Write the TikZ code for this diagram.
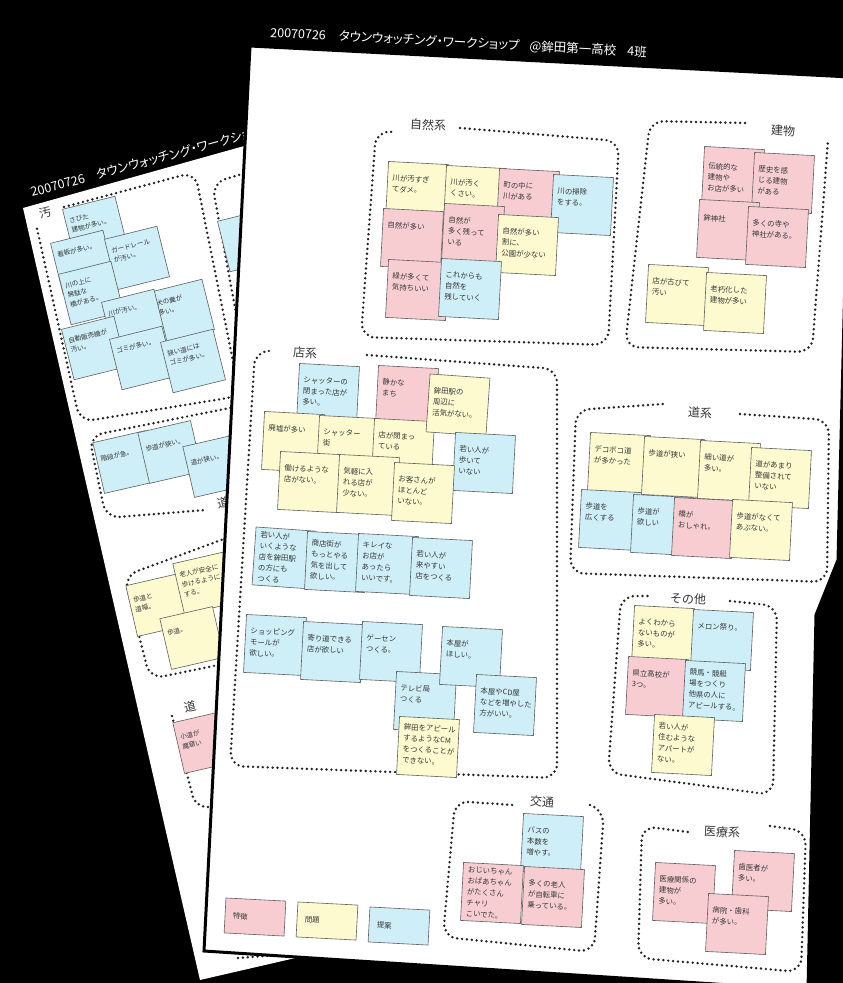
\documentclass[tikz,border=0pt]{standalone}
\usepackage{fontspec}
\setmainfont{Noto Sans CJK JP}
\newfontfamily\hdfont[RawFeature={+palt}]{Noto Sans CJK JP}
\definecolor{pk}{RGB}{247,205,210}
\definecolor{yl}{RGB}{252,250,206}
\definecolor{bl}{RGB}{206,238,248}
\definecolor{edgec}{RGB}{95,95,95}
\definecolor{txt}{RGB}{55,55,55}
\definecolor{dotc}{RGB}{35,35,35}
\newcommand\stnote[7][13pt]{%
  \node[note,fill=#6,rotate=#5] (#2) at (#3,#4) {};
  \node[ntext,rotate=#5,anchor=north west,xshift=5pt,yshift=-#1] (#2t) at (#2.north west) {#7};}
\newcommand\bknote[7][10pt]{%
  \node[bnote,fill=#6,rotate=#5] (#2) at (#3,#4) {};
  \node[btext,rotate=#5,anchor=north west,xshift=4pt,yshift=-#1] (#2t) at (#2.north west) {#7};}
\begin{document}
\begin{tikzpicture}[x=1pt,y=-1pt,
  note/.style={draw=edgec,line width=0.6pt,inner sep=0pt,minimum width=60pt,minimum height=58pt},
  bnote/.style={draw=edgec,line width=0.6pt,inner sep=0pt,minimum width=54pt,minimum height=52pt},
  ntext/.style={inner sep=0pt,align=left,font=\fontsize{7.4}{11}\selectfont,text=txt},
  btext/.style={inner sep=0pt,align=left,font=\fontsize{6.6}{9.8}\selectfont,text=txt},
  frame/.style={draw=dotc,line width=2.7pt,dash pattern=on 0pt off 4.9pt,line cap=round,rounded corners=14pt},
  flab/.style={font=\fontsize{12}{12}\selectfont,text=txt,inner sep=1pt},
  hdr/.style={font=\hdfont\fontsize{12.5}{12.5}\selectfont,text=white,inner sep=0pt},
  lgd/.style={draw=edgec,line width=0.6pt,inner sep=0pt,minimum width=60pt,minimum height=35pt}]
\useasboundingbox (0,0) rectangle (843,983);
\fill[black] (0,0) rectangle (843,983);

% ---------- back sheet ----------
\fill[white] (23,208) -- (262,141) -- (330,950) -- (200,980) -- cycle;
\node[hdr,anchor=base west,rotate=15] (bh) at (32,197) {20070726\hspace{12pt}タウンウォッチング・ワークショップ};
\draw[frame] (64,207) -- (195,172) -- (240,396) -- (80,422) -- (36,224);
\node[flab,rotate=14] (bl1) at (45,213) {汚};
\draw[frame] (272,165) -- (212,183) -- (252,400);
\draw[frame] (240,406) -- (89,436) -- (106,518) -- (205,510);
\node[flab,rotate=13] (bl2) at (223,503) {道};
\draw[frame] (240,533) -- (124,576) -- (150,679) -- (228,663);
\draw[frame] (172,716) -- (196,809) -- (230,804);
\node[flab,rotate=13] (bl3) at (190,707) {道};
\draw[frame,rounded corners=0pt] (238,958) -- (292,954);

\bknote{ba}{95}{228}{14}{bl}{さびた\\建物が多い。}
\bknote{bb}{83}{262}{14}{bl}{看板が多い。}
\bknote{bc}{137}{258}{14}{bl}{ガードレール\\が汚い。}
\bknote{bd}{91}{293}{14}{bl}{川の上に\\無駄な\\橋がある。}
\bknote{bf}{182}{311}{14}{bl}{犬の糞が\\多い。}
\bknote{be}{134}{321}{14}{bl}{川が汚い。}
\bknote{bg}{94}{348}{14}{bl}{自動販売機が\\汚い。}
\bknote{bh2}{142}{358}{14}{bl}{ゴミが多い。}
\bknote{bi}{193}{361}{14}{bl}{狭い道には\\ゴミが多い。}
\node[bnote,fill=bl,rotate=14] (bj) at (250,240) {};
\bknote[15pt]{bk}{125}{462}{13}{bl}{階段が急。}
\bknote[15pt]{bl4}{170}{452}{13}{bl}{歩道が狭い。}
\bknote[15pt]{bm}{215}{466}{13}{bl}{道が狭い。}
\bknote[13pt]{bn}{158}{605}{13}{yl}{歩道と\\道幅。}
\bknote{bo}{205}{583}{13}{yl}{老人が安全に\\歩けるように\\する。}
\bknote[13pt]{bp}{192}{638}{13}{yl}{歩道。}
\bknote[13pt]{bq}{205}{742}{13}{pk}{小道が\\魔窟い}

% ---------- front sheet ----------
\filldraw[fill=white,draw=black,line width=3pt] (250,46) -- (850,77) -- (838,560) -- (816,615) -- (808,990) -- (204,951) -- cycle;
\node[hdr,anchor=base west,rotate=-3] (fh) at (270,37) {20070726\hspace{13pt}タウンウォッチング・ワークショップ\hspace{10pt}@鉾田第一高校\hspace{11pt}4班};

% frames
\draw[frame] (460,128) -- (619,141) -- (608,345) -- (361,337) -- (376,131) -- (393,132);
\node[flab,rotate=-3] (l1) at (428,125) {自然系};
\draw[frame] (745,123) -- (650,121) -- (625,347) -- (812,352) -- (828,140);
\node[flab,rotate=-3] (l2) at (783,131) {建物};
\draw[frame] (367,355) -- (557,369) -- (557,778) -- (230,766) -- (255,351) -- (268,351);
\node[flab,rotate=-3] (l3) at (305,353) {店系};
\draw[frame] (740,414) -- (829,420) -- (827,582) -- (570,573) -- (576,410) -- (663,404);
\node[flab,rotate=-3] (l4) at (700,413) {道系};
\draw[frame] (730,601) -- (777,606) -- (773,795) -- (608,773) -- (621,596) -- (650,596);
\node[flab,rotate=-3] (l5) at (688,599) {その他};
\draw[frame] (590,805) -- (604,810) -- (594,952) -- (443,937) -- (455,801) -- (513,805);
\node[flab,rotate=-3] (l6) at (542,802) {交通};
\draw[frame] (770,826) -- (806,831) -- (801,972) -- (638,958) -- (642,826) -- (688,832);
\node[flab,rotate=-3] (l7) at (722,832) {医療系};

% 自然系
\stnote{s1}{417}{192}{-3}{yl}{川が汚すぎ\\てダメ。}
\stnote{s2}{475}{196}{-3}{yl}{川が汚く\\くさい。}
\stnote{s3}{528}{199}{-3}{pk}{町の中に\\川がある}
\stnote{s4}{582}{205}{-3}{bl}{川の掃除\\をする。}
\stnote{s5}{412}{239}{-3}{pk}{自然が多い}
\stnote{s6}{473}{234}{-3}{pk}{自然が\\多く残って\\いる}
\stnote{s7}{527}{245}{-3}{yl}{自然が多い\\割に、\\公園が少ない}
\stnote{s8}{417}{290}{-3}{pk}{緑が多くて\\気持ちいい}
\stnote{s9}{470}{289}{-3}{bl}{これからも\\自然を\\残していく}
% 建物
\stnote[16pt]{t1}{733}{177}{-3}{pk}{伝統的な\\建物や\\お店が多い}
\stnote{t2}{783}{183}{-3}{pk}{歴史を感\\じる建物\\がある}
\stnote[15pt]{t3}{728}{230}{-3}{pk}{鉾神社}
\stnote{t4}{777}{237}{-3}{pk}{多くの寺や\\神社がある。}
\stnote{t5}{677}{295}{-3}{yl}{店が古びて\\汚い}
\stnote{t6}{735}{303}{-3}{yl}{老朽化した\\建物が多い}
% 店系
\stnote{m1}{328}{394}{-3}{bl}{シャッターの\\閉まった店が\\多い。}
\stnote{m2}{407}{396}{-3}{pk}{静かな\\まち}
\stnote{m4}{293}{442}{-3}{yl}{廃墟が多い}
\stnote{m5}{348}{446}{-3}{yl}{シャッター\\街}
\stnote{m6}{403}{449}{-3}{yl}{店が閉まっ\\ている}
\stnote{m3}{458}{405}{-4}{yl}{鉾田駅の\\周辺に\\活気がない。}
\stnote{m7}{484}{463}{-3}{bl}{若い人が\\歩いて\\いない}
\stnote{m8}{309}{482}{-3}{yl}{働けるような\\店がない。}
\stnote{m9}{368}{485}{-3}{yl}{気軽に入\\れる店が\\少ない。}
\stnote{m10}{423}{493}{-3}{yl}{お客さんが\\ほとんど\\いない。}
\stnote[4pt]{m11}{284}{558}{-4}{bl}{若い人が\\いくような\\店を鉾田駅\\の方にも\\つくる}
\stnote[8pt]{m12}{336}{562}{-3}{bl}{商店街が\\もっとやる\\気を出して\\欲しい。}
\stnote[8pt]{m13}{387}{564}{-3}{bl}{キレイな\\お店が\\あったら\\いいです。}
\stnote{m14}{441}{568}{-3}{bl}{若い人が\\来やすい\\店をつくる}
\stnote{m15}{275}{645}{-3}{bl}{ショッピング\\モールが\\欲しい。}
\stnote{m16}{332}{652}{-3}{bl}{寄り道できる\\店が欲しい}
\stnote{m17}{391}{652}{-3}{bl}{ゲーセン\\つくる。}
\stnote{m19}{425}{702}{-3}{bl}{テレビ局\\つくる}
\stnote{m18}{471}{657}{-3}{bl}{本屋が\\ほしい。}
\stnote{m20}{505}{705}{-3}{bl}{本屋やCD屋\\などを増やした\\方がいい。}
\stnote[7pt]{m21}{428}{747}{-3}{yl}{鉾田をアピール\\するようなCM\\をつくることが\\できない。}
% 道系
\stnote{r1}{619}{463}{-3}{yl}{デコボコ道\\が多かった}
\stnote{r2}{673}{467}{-3}{yl}{歩道が狭い}
\stnote{r3}{729}{471}{-3}{yl}{細い道が\\多い。}
\stnote{r4}{780}{478}{-3}{yl}{道があまり\\整備されて\\いない}
\stnote{r5}{610}{520}{-3}{bl}{歩道を\\広くする}
\stnote{r6}{662}{525}{-3}{bl}{歩道が\\欲しい}
\stnote{r7}{703}{528}{-3}{pk}{橋が\\おしゃれ。}
\stnote{r8}{761}{530}{-3}{yl}{歩道がなくて\\あぶない。}
% その他
\stnote{o1}{663}{636}{-3}{yl}{よくわから\\ないものが\\多い。}
\stnote{o2}{722}{640}{-3}{bl}{メロン祭り。}
\stnote{o3}{657}{687}{-3}{pk}{県立高校が\\3つ。}
\stnote[8pt]{o4}{714}{691}{-3}{bl}{競馬・競艇\\場をつくり\\他県の人に\\アピールする。}
\stnote[8pt]{o5}{683}{745}{-3}{yl}{若い人が\\住むような\\アパートが\\ない。}
% 交通
\stnote{k1}{552}{844}{-3}{bl}{バスの\\本数を\\増やす。}
\stnote[4pt]{k2}{492}{893}{-3}{pk}{おじいちゃん\\おばあちゃん\\がたくさん\\チャリ\\こいでた。}
\stnote{k3}{553}{897}{-3}{pk}{多くの老人\\が自転車に\\乗っている。}
% 医療系
\stnote{i1}{684}{893}{-3}{pk}{医療関係の\\建物が\\多い。}
\stnote{i2}{763}{881}{-3}{pk}{歯医者が\\多い。}
\stnote{i3}{737}{924}{-3}{pk}{病院・歯科\\が多い。}
% legend
\node[lgd,fill=pk,rotate=-3] (g1) at (255,917) {};
\node[ntext,rotate=-3,anchor=west,xshift=8pt] (g1t) at (g1.west) {特徴};
\node[lgd,fill=yl,rotate=-3] (g2) at (327,921) {};
\node[ntext,rotate=-3,anchor=west,xshift=8pt] (g2t) at (g2.west) {問題};
\node[lgd,fill=bl,rotate=-3] (g3) at (399,926) {};
\node[ntext,rotate=-3,anchor=west,xshift=8pt] (g3t) at (g3.west) {提案};
\end{tikzpicture}
\end{document}
